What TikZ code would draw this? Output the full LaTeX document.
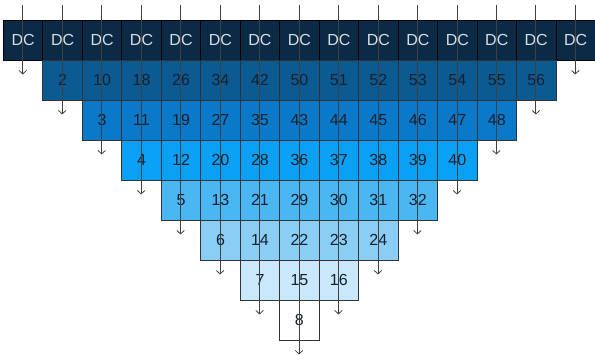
\documentclass[tikz,border=0pt]{standalone}
\usepackage{fontspec}
\setmainfont{Liberation Sans}
\usetikzlibrary{arrows.meta}
% one fill per row, darkest at the top
\definecolor{row0}{HTML}{0B2A45}
\definecolor{row1}{HTML}{0B5A91}
\definecolor{row2}{HTML}{0A79C9}
\definecolor{row3}{HTML}{0AA0F3}
\definecolor{row4}{HTML}{4AB6F2}
\definecolor{row5}{HTML}{8ACEF6}
\definecolor{row6}{HTML}{C9E8FB}
\definecolor{row7}{HTML}{FFFFFF}
\definecolor{numtext}{HTML}{14202F}
\definecolor{dctext}{HTML}{D5DDE5}
\begin{document}
\begin{tikzpicture}[x=1pt,y=-1pt,
  cell/.style={draw=black, line width=0.8pt, minimum width=39.47pt,
    minimum height=40pt, inner sep=0pt, anchor=north west,
    font=\fontsize{16}{19}\selectfont, text=numtext},
  dccell/.style={cell, fill=row0, text=dctext},
  flow/.style={draw=black!75, line width=0.8pt,
    -{Straight Barb[length=3.5pt,width=7.5pt]}}]
\useasboundingbox (0,0) rectangle (595,355);

% top row of DC cells
\foreach \c in {0,...,14}
  \node[dccell] (cell-0-\c) at (3+39.47*\c, 20) {DC};

% numbered rows, each two cells narrower than the one above
\foreach \r in {1,...,7}{
  \pgfmathtruncatemacro\cmax{14-\r}
  \foreach \c in {\r,...,\cmax}{
    \pgfmathtruncatemacro\v{\c<=7 ? \r+1+8*(\c-\r) : \r+1+8*(7-\r)+(\c-7)}
    \node[cell, fill=row\r, draw=black!80] (cell-\r-\c) at (3+39.47*\c, 20+40*\r) {\v};
  }
}

% one downward flow line per column, ending under its last cell
\foreach \c in {0,...,14}{
  \pgfmathsetmacro\xx{22.73+39.47*\c}
  \pgfmathsetmacro\yy{20+40*(min(\c,14-\c)+1)+14.5}
  \coordinate (top-\c) at (\xx, 5);
  \coordinate (end-\c) at (\xx, \yy);
  \draw[flow] (top-\c) -- (end-\c);
}
\end{tikzpicture}
\end{document}
